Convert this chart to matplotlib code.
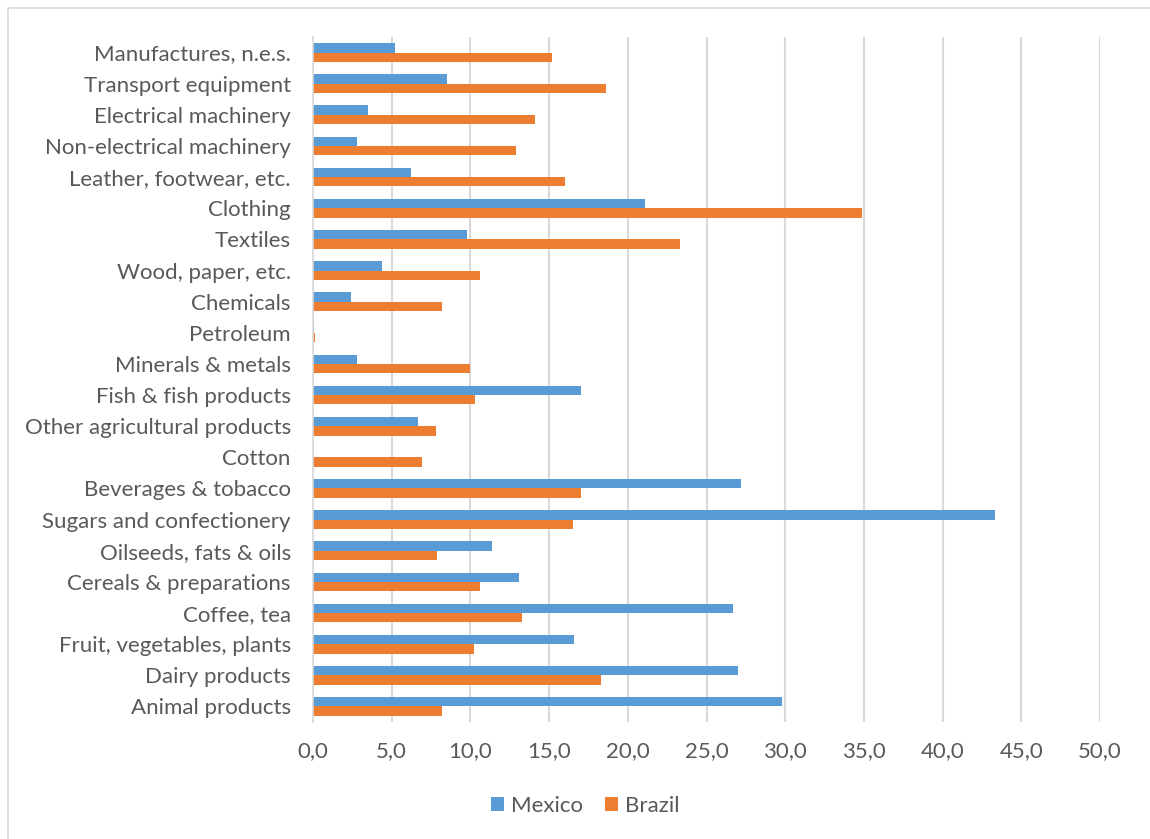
import numpy as np
import matplotlib.pyplot as plt
from matplotlib.patches import Rectangle
from matplotlib.ticker import FuncFormatter

# Kategorien von unten nach oben (wie im Diagramm)
categories = [
    "Animal products", "Dairy products", "Fruit, vegetables, plants",
    "Coffee, tea", "Cereals & preparations", "Oilseeds, fats & oils",
    "Sugars and confectionery", "Beverages & tobacco", "Cotton",
    "Other agricultural products", "Fish & fish products", "Minerals & metals",
    "Petroleum", "Chemicals", "Wood, paper, etc.", "Textiles", "Clothing",
    "Leather, footwear, etc.", "Non-electrical machinery",
    "Electrical machinery", "Transport equipment", "Manufactures, n.e.s.",
]
mexico = [29.8, 27.0, 16.6, 26.7, 13.1, 11.4, 43.3, 27.2, 0.0, 6.7, 17.0, 2.8,
          0.05, 2.4, 4.4, 9.8, 21.1, 6.2, 2.8, 3.5, 8.5, 5.2]
brazil = [8.2, 18.3, 10.2, 13.3, 10.6, 7.9, 16.5, 17.0, 6.9, 7.8, 10.3, 10.0,
          0.1, 8.2, 10.6, 23.3, 34.9, 16.0, 12.9, 14.1, 18.6, 15.2]
ticks = np.arange(0, 55, 5)

blue = '#5b9bd5'
orange = '#ed7d31'
text_col = '#595959'
grid_col = '#d9d9d9'

plt.rcParams['font.family'] = ['Lato', 'DejaVu Sans']

fig = plt.figure(figsize=(11.5, 8.39), dpi=100)
ax = fig.add_axes([313 / 1150, 1 - 722 / 839, (1100 - 313) / 1150, (722 - 37) / 839])

y = np.arange(len(categories))
h = 0.3
ax.barh(y + h / 2, mexico, height=h, color=blue, label='Mexico')
ax.barh(y - h / 2, brazil, height=h, color=orange, label='Brazil')

ax.set_xlim(0, 50)
ax.set_ylim(-0.5, len(categories) - 0.5)
ax.set_xticks(ticks)
ax.xaxis.set_major_formatter(FuncFormatter(lambda v, p: f"{v:.1f}".replace('.', ',')))
ax.set_yticks(y)
ax.set_yticklabels(categories)

ax.grid(axis='x', color=grid_col, linewidth=1.5)
ax.set_axisbelow(True)
for s in ['top', 'right', 'bottom']:
    ax.spines[s].set_visible(False)
ax.spines['left'].set_color(grid_col)
ax.spines['left'].set_linewidth(1.2)

ax.tick_params(axis='both', length=0, labelsize=16, colors=text_col)
ax.tick_params(axis='x', pad=14)
ax.tick_params(axis='y', pad=16)

leg = fig.legend(loc='center', bbox_to_anchor=(585 / 1150, 1 - 806 / 839), ncol=2,
                 frameon=False, fontsize=16, handlelength=0.6, handleheight=0.6,
                 handletextpad=0.3, columnspacing=1.0)
for t in leg.get_texts():
    t.set_color(text_col)

# Rahmen des Diagrammbereichs
fig.patches.append(Rectangle((8 / 1150, -0.1), 1.2, 1 - 8 / 839 + 0.1,
                             transform=fig.transFigure, fill=False,
                             edgecolor=grid_col, linewidth=1.2))

fig.savefig('out.png', dpi=100)
